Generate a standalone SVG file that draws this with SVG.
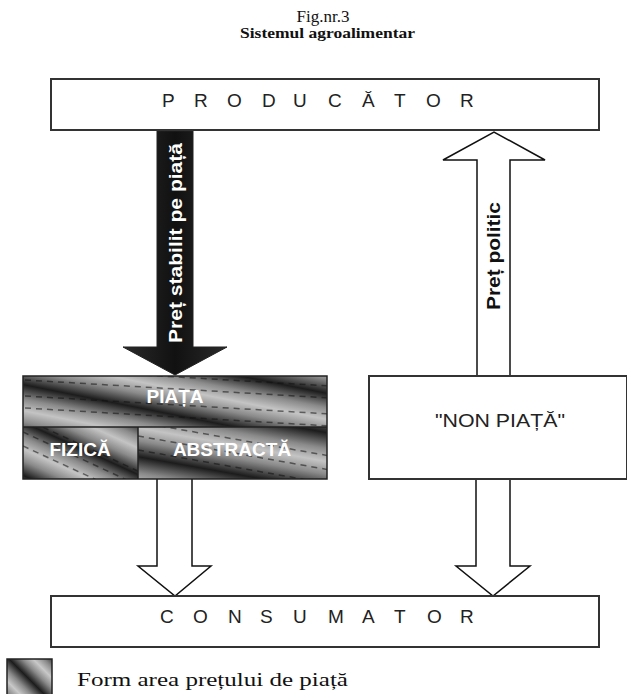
<svg xmlns="http://www.w3.org/2000/svg" width="627" height="694" viewBox="0 0 627 694">
<defs>
<style>
.box{fill:#fff;stroke:#333;stroke-width:2}
.lbl{font-family:"Liberation Sans",Arial,sans-serif;font-size:19px;fill:#222}
.wb{font-family:"Liberation Sans",Arial,sans-serif;font-weight:bold;font-size:19px;fill:#fff}
.ser{font-family:"Liberation Serif","Times New Roman",serif;fill:#111}
.arr{fill:#fff;stroke:#111;stroke-width:1.5}
.dash{fill:none;stroke:#111;stroke-width:1.5;stroke-dasharray:6 5;opacity:0.55}
</style>
<linearGradient id="gTop" gradientUnits="userSpaceOnUse" x1="0" y1="380" x2="-5" y2="405" spreadMethod="reflect">
<stop offset="0" stop-color="#1c1c1c"/><stop offset="0.55" stop-color="#8a8a8a"/><stop offset="1" stop-color="#c4c4c4"/>
</linearGradient>
<linearGradient id="gFiz" gradientUnits="userSpaceOnUse" x1="40" y1="430" x2="30" y2="452" spreadMethod="reflect">
<stop offset="0" stop-color="#1c1c1c"/><stop offset="0.55" stop-color="#8a8a8a"/><stop offset="1" stop-color="#c4c4c4"/>
</linearGradient>
<linearGradient id="gAbs" gradientUnits="userSpaceOnUse" x1="150" y1="430" x2="145" y2="458" spreadMethod="reflect">
<stop offset="0" stop-color="#c4c4c4"/><stop offset="0.45" stop-color="#8a8a8a"/><stop offset="1" stop-color="#1c1c1c"/>
</linearGradient>
<linearGradient id="gLeg" gradientUnits="userSpaceOnUse" x1="10" y1="660" x2="22" y2="648" spreadMethod="reflect">
<stop offset="0" stop-color="#1c1c1c"/><stop offset="0.55" stop-color="#8a8a8a"/><stop offset="1" stop-color="#c8c8c8"/>
</linearGradient>
<linearGradient id="gArr" x1="0" y1="0" x2="1" y2="0">
<stop offset="0" stop-color="#2a2a2a"/><stop offset="0.5" stop-color="#111"/><stop offset="1" stop-color="#2a2a2a"/>
</linearGradient>
<clipPath id="cTop"><rect x="23" y="376" width="304" height="51"/></clipPath>
<clipPath id="cFiz"><rect x="23" y="427" width="115" height="52"/></clipPath>
<clipPath id="cAbs"><rect x="138" y="427" width="189" height="52"/></clipPath>
</defs>

<g id="title">
<text class="ser" x="323" y="22" text-anchor="middle" font-size="17">Fig.nr.3</text>
<text class="ser" x="240" y="38" font-size="14" font-weight="bold" textLength="175" lengthAdjust="spacingAndGlyphs">Sistemul agroalimentar</text>
</g>

<g id="connectors">
<g id="arrow-pret-piata">
<path d="M157,131 L193,131 L193,347 L227,347 L175,375 L123,347 L157,347 Z" fill="url(#gArr)" stroke="#222" stroke-width="1"/>
<text class="wb" transform="translate(182,243) rotate(-90)" text-anchor="middle" font-size="18" textLength="200" lengthAdjust="spacingAndGlyphs">Preț stabilit pe piață</text>
</g>
<g id="arrow-pret-politic">
<path class="arr" d="M477,376 L477,160 L443,160 L494,132 L545,160 L510,160 L510,376"/>
<text transform="translate(500,256) rotate(-90)" text-anchor="middle" font-family="Liberation Sans, Arial, sans-serif" font-weight="bold" font-size="19" fill="#111" textLength="108" lengthAdjust="spacingAndGlyphs">Preț politic</text>
</g>
<path id="arrow-piata-consumator" class="arr" d="M157,479 L157,566 L138,566 L175,596 L211,566 L192,566 L192,479"/>
<path id="arrow-nonpiata-consumator" class="arr" d="M476,479 L476,566 L456,566 L493,596 L530,566 L510,566 L510,479"/>
</g>

<g id="producator">
<rect class="box" x="51" y="79" width="548" height="51"/>
<text class="lbl" y="107" x="162 194 227 262 293 328 362 394 426 460">PRODUCĂTOR</text>
</g>

<g id="piata">
<rect x="23" y="376" width="304" height="51" fill="url(#gTop)"/>
<g clip-path="url(#cTop)">
<path class="dash" d="M25,396 L330,414 M25,380 L330,398 M25,408 L330,426 M25,368 L330,386"/>
</g>
<rect x="23" y="427" width="115" height="52" fill="url(#gFiz)"/>
<g clip-path="url(#cFiz)">
<path class="dash" d="M23,432 L140,486 M23,418 L140,472 M23,446 L140,500"/>
</g>
<rect x="138" y="427" width="189" height="52" fill="url(#gAbs)"/>
<g clip-path="url(#cAbs)">
<path class="dash" d="M138,436 L330,470 M138,422 L330,456 M138,450 L330,484"/>
</g>
<rect x="23" y="376" width="304" height="103" fill="none" stroke="#222" stroke-width="1.5"/>
<line x1="23" y1="427" x2="327" y2="427" stroke="#222" stroke-width="1.5"/>
<line x1="138" y1="427" x2="138" y2="479" stroke="#222" stroke-width="1.5"/>
<text class="wb" x="175" y="403" text-anchor="middle">PIAȚA</text>
<text class="wb" x="80" y="456" text-anchor="middle">FIZICĂ</text>
<text class="wb" x="232" y="456" text-anchor="middle">ABSTRACTĂ</text>
</g>

<g id="non-piata">
<rect class="box" x="369" y="376" width="258" height="103"/>
<text class="lbl" x="500" y="427" text-anchor="middle" font-size="20" textLength="130" lengthAdjust="spacingAndGlyphs">"NON PIAȚĂ"</text>
</g>

<g id="consumator">
<rect class="box" x="51" y="596" width="548" height="51"/>
<text class="lbl" y="623" x="160 193 228 260 293 328 362 394 427 460">CONSUMATOR</text>
</g>

<g id="legend">
<rect x="7" y="659" width="45" height="40" fill="url(#gLeg)" stroke="#222" stroke-width="1.5"/>
<text class="ser" x="77" y="686" font-size="18" textLength="271" lengthAdjust="spacingAndGlyphs">Form area prețului de piață</text>
</g>
</svg>
